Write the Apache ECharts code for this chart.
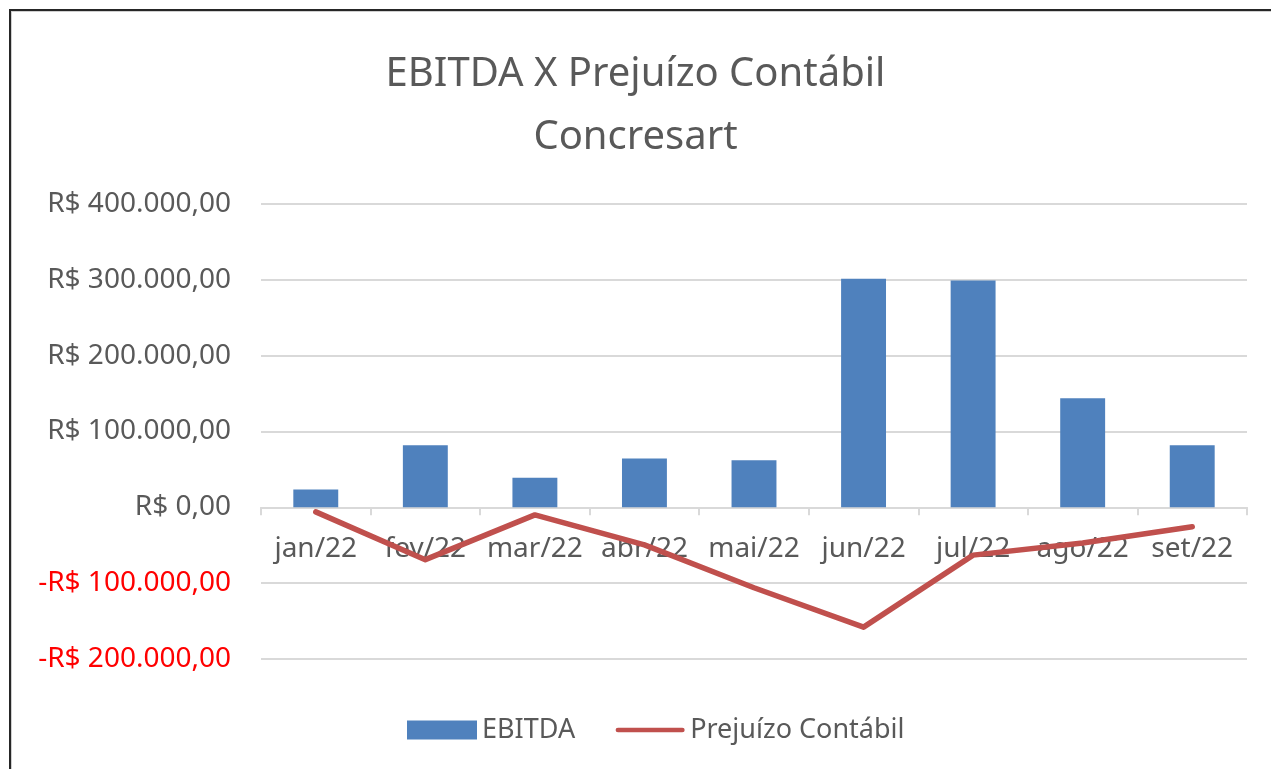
<!DOCTYPE html>
<html>
<head>
<meta charset="utf-8">
<title>EBITDA X Prejuízo Contábil</title>
<script src="https://cdn.jsdelivr.net/npm/echarts@6/dist/echarts.min.js"></script>
<style>
    html, body { margin: 0; padding: 0; background: #fff; }
    #chart { position: absolute; left: 0; top: 0; width: 1271px; height: 769px; }
    /* moldura do gráfico (recortada à direita e embaixo) */
    #frame {
        position: absolute; left: 9px; top: 9px; width: 1300px; height: 800px;
        border-left: 2px solid #262626; border-top: 2px solid #262626;
        box-shadow: inset 1px 1px 0 #cfcfcf;
        pointer-events: none;
    }
</style>
</head>
<body>
<div id="chart"></div>
<div id="frame"></div>
<script>
    var categorias = ['jan/22', 'fev/22', 'mar/22', 'abr/22', 'mai/22', 'jun/22', 'jul/22', 'ago/22', 'set/22'];
    var ebitda = [23500, 82000, 39000, 64500, 62000, 301500, 299000, 144000, 82000];
    var prejuizo = [-6000, -69000, -10000, -49500, -106000, -158000, -63000, -47000, -25500];

    var eixoMin = -200000;
    var eixoMax = 400000;
    var eixoPasso = 100000;

    var fonte = '"Noto Sans", "DejaVu Sans", sans-serif';
    var cinza = '#595959';

    // formata no padrão R$ 100.000,00
    var moeda = function (v) {
        var n = Number(v);
        var partes = Math.abs(n).toFixed(2).split('.');
        var inteiro = partes[0].replace(/\B(?=(\d{3})+(?!\d))/g, '.');
        return (n < 0 ? '-' : '') + 'R$ ' + inteiro + ',' + partes[1];
    };

    // ícone de linha da legenda (os "M" dos cantos fixam a caixa 75x19)
    var iconeLinha = 'path://M0,0 M75,19 M3,7 L72,7 A2.5,2.5 0 0 1 72,12 L3,12 A2.5,2.5 0 0 1 3,7 Z';

    var chart = echarts.init(document.getElementById('chart'));

    chart.setOption({
        animation: false,
        title: {
            text: 'EBITDA X Prejuízo Contábil\nConcresart',
            left: 'center',
            top: 38,
            textStyle: {
                fontFamily: fonte,
                fontSize: 40,
                fontWeight: 'normal',
                lineHeight: 63,
                color: cinza
            }
        },
        legend: {
            left: 402,
            top: 711,
            itemWidth: 70,
            itemHeight: 19,
            itemGap: 40,
            textStyle: {
                fontFamily: fonte,
                fontSize: 27,
                lineHeight: 28,
                color: cinza
            },
            data: [
                { name: 'EBITDA', icon: 'rect' },
                { name: 'Prejuízo Contábil', icon: iconeLinha }
            ]
        },
        grid: {
            left: 261,
            right: 24,
            top: 204,
            bottom: 110
        },
        xAxis: {
            type: 'category',
            data: categorias,
            axisLine: { onZero: true, lineStyle: { color: '#D9D9D9', width: 2 } },
            axisTick: { show: true, length: 8, lineStyle: { color: '#D9D9D9', width: 2 } },
            axisLabel: {
                interval: 0,
                // rótulos logo abaixo da linha do zero
                margin: -124,
                fontFamily: fonte,
                fontSize: 28,
                lineHeight: 28,
                color: cinza
            }
        },
        yAxis: {
            type: 'value',
            min: eixoMin,
            max: eixoMax,
            interval: eixoPasso,
            axisLine: { show: false },
            axisTick: { show: false },
            splitLine: { lineStyle: { color: '#D9D9D9', width: 2 } },
            axisLabel: {
                margin: 30,
                fontFamily: fonte,
                fontSize: 28,
                formatter: moeda,
                color: function (v) {
                    return Number(v) < 0 ? '#FF0000' : cinza;
                }
            }
        },
        series: [
            {
                name: 'EBITDA',
                type: 'bar',
                data: ebitda,
                barWidth: '41%',
                itemStyle: { color: '#4F81BD' }
            },
            {
                name: 'Prejuízo Contábil',
                type: 'line',
                data: prejuizo,
                symbol: 'none',
                lineStyle: { color: '#C0504D', width: 5.5, cap: 'round', join: 'round' },
                itemStyle: { color: '#C0504D' },
                z: 3
            }
        ]
    });
</script>
</body>
</html>
